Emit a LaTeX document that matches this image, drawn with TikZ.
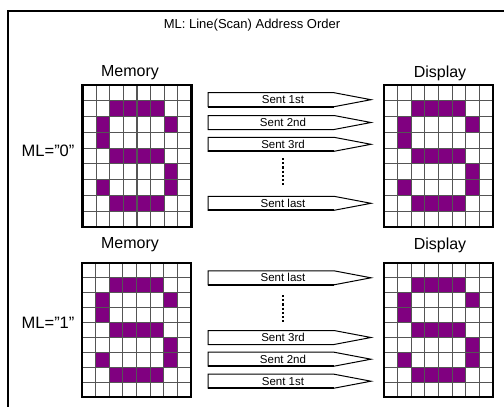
\documentclass[tikz,border=0pt]{standalone}
\usepackage{fontspec}
\setmainfont{Liberation Sans}
\definecolor{pix}{RGB}{128,0,128}
\definecolor{gline}{RGB}{85,85,85}
\tikzset{
  frameline/.style={line width=1.5pt, black},
  gridl/.style={gline, line width=1.2pt},
  gridframe/.style={black, line width=2.6pt},
  arrowline/.style={draw=black, fill=white, line width=1pt, line join=miter},
  arrowtxt/.style={inner sep=0pt, font=\fontsize{11.5}{13}\selectfont},
  headtxt/.style={inner sep=0pt, font=\fontsize{16}{19}\selectfont},
  titletxt/.style={inner sep=0pt, font=\fontsize{13}{15}\selectfont},
  mltxt/.style={inner sep=0pt, anchor=west, font=\fontsize{16.5}{19}\selectfont},
  dotline/.style={line width=1.3pt, dash pattern=on 2.2pt off 2pt},
}
\newcommand\lcdgrid[5]{% name, x0, y0, x1, y1
  \pgfmathsetmacro\gw{(#4-#2)/8}
  \pgfmathsetmacro\gh{(#5-#3)/9}
  \begin{scope}[shift={(#2,#3)}, x=\gw pt, y=-\gh pt]
    \foreach \c/\r in {2/1,3/1,4/1,5/1,1/2,6/2,1/3,2/4,3/4,4/4,5/4,6/5,1/6,6/6,2/7,3/7,4/7,5/7}
      \fill[pix] (\c,\r) rectangle ++(1,1);
    \foreach \i in {1,...,7} \draw[gridl] (\i,0) -- (\i,9);
    \foreach \j in {1,...,8} \draw[gridl] (0,\j) -- (8,\j);
    \draw[gridframe] (0,0) rectangle (8,9);
    \coordinate (#1) at (4,4.5);
  \end{scope}
}
\newcommand\sentarrow[3]{% name, y centre, text
  \draw[arrowline] (208,#2-7) -- (334,#2-7) -- (371,#2) -- (334,#2+7) -- (208,#2+7) -- cycle;
  \draw[line width=1.8pt] (208,#2+7) -- (334,#2+7);
  \node[arrowtxt] (#1) at (283,#2) {#3};
}
\begin{document}
\begin{tikzpicture}[x=1pt,y=-1pt]
\useasboundingbox (0,0) rectangle (504,407);
\fill[white] (0,0) rectangle (504,407);
\draw[frameline] (8,407) -- (8,11) -- (504,11);
\node[titletxt] (title) at (252,25) {ML: Line(Scan) Address Order};

% section ML="0"
\node[headtxt] (mem1) at (130,73) {Memory};
\node[headtxt] (disp1) at (440,73) {Display};
\node[mltxt] (ml0) at (21.5,151) {ML="0"};
\lcdgrid{g1m}{82.5}{85}{191.5}{227}
\lcdgrid{g1d}{384}{85}{493}{227}
\sentarrow{a1}{99.7}{Sent 1st}
\sentarrow{a2}{122.5}{Sent 2nd}
\sentarrow{a3}{144.3}{Sent 3rd}
\sentarrow{a4}{203.3}{Sent last}
\coordinate (d1s) at (283,158);
\coordinate (d1e) at (283,187);
\draw[dotline] (d1s) -- (d1e);

% section ML="1"
\node[headtxt] (mem2) at (130,245) {Memory};
\node[headtxt] (disp2) at (440,245) {Display};
\node[mltxt] (ml1) at (21.5,323) {ML="1"};
\lcdgrid{g2m}{82}{263}{191}{397}
\lcdgrid{g2d}{384}{263}{493}{397}
\sentarrow{b4}{277.8}{Sent last}
\sentarrow{b3}{337.5}{Sent 3rd}
\sentarrow{b2}{359.2}{Sent 2nd}
\sentarrow{b1}{381.2}{Sent 1st}
\coordinate (d2s) at (283,295);
\coordinate (d2e) at (283,323);
\draw[dotline] (d2s) -- (d2e);
\end{tikzpicture}
\end{document}
